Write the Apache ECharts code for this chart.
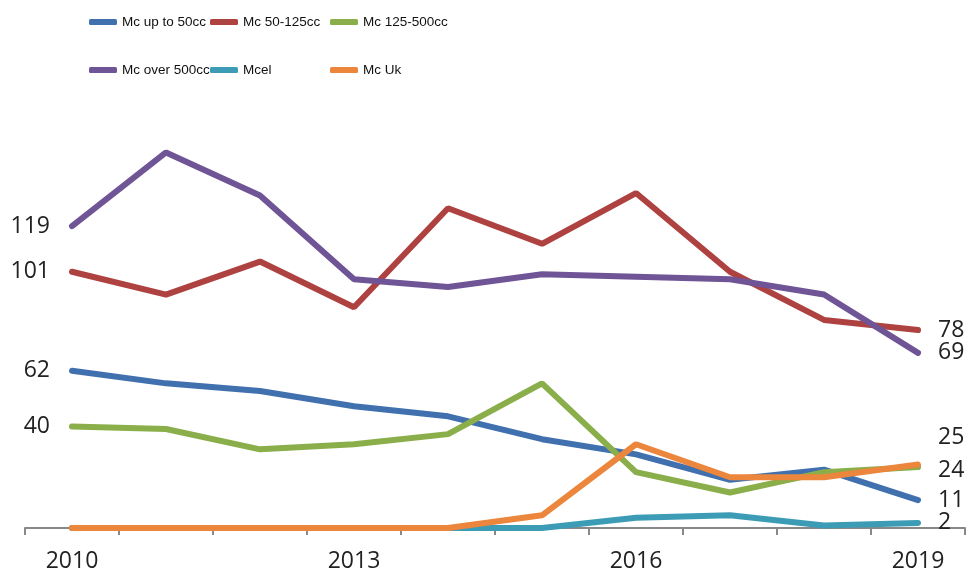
<!DOCTYPE html>
<html>
<head>
<meta charset="utf-8">
<script src="https://cdn.jsdelivr.net/npm/echarts@6/dist/echarts.min.js"></script>
<style>html,body{margin:0;background:#fff}#chart{width:970px;height:578px}</style>
</head>
<body>
<div id="chart"></div>
<script>
var years = ['2010', '2011', '2012', '2013', '2014', '2015', '2016', '2017', '2018', '2019'];
var mcUpTo50 = [62, 57, 54, 48, 44, 35, 29, 19, 23, 11];
var mc50to125 = [101, 92, 105, 87, 126, 112, 132, 101, 82, 78];
var mc125to500 = [40, 39, 31, 33, 37, 57, 22, 14, 22, 24];
var mcOver500 = [119, 148, 131, 98, 95, 100, 99, 98, 92, 69];
var mcel = [0, 0, 0, 0, 0, 0, 4, 5, 1, 2];
var mcUk = [0, 0, 0, 0, 0, 5, 33, 20, 20, 25];

var seriesNames = ['Mc up to 50cc', 'Mc 50-125cc', 'Mc 125-500cc', 'Mc over 500cc', 'Mcel', 'Mc Uk'];
var legendLeft = [89, 210, 330, 89, 210, 330];
var legendTop = [15, 15, 15, 63, 63, 63];

var numFont = '"Open Sans", sans-serif';
var legendFont = '"Liberation Sans", Arial, sans-serif';

function makeSeries(name, data, color, showStart, endOffset) {
  return {
    name: name,
    type: 'line',
    data: data,
    symbol: 'circle',
    symbolSize: 0,
    showSymbol: true,
    lineStyle: { width: 6, color: color, cap: 'round' },
    itemStyle: { color: color },
    label: {
      show: showStart,
      position: 'left',
      distance: 22,
      fontFamily: numFont,
      fontSize: 23,
      color: '#222',
      formatter: function (p) { return p.dataIndex === 0 ? String(p.value) : ''; }
    },
    endLabel: {
      show: true,
      distance: 20,
      offset: [0, endOffset],
      fontFamily: numFont,
      fontSize: 23,
      color: '#222',
      formatter: '{c}'
    }
  };
}

var legends = seriesNames.map(function (n, i) {
  return {
    left: legendLeft[i],
    top: legendTop[i],
    itemWidth: 28,
    itemHeight: 6,
    itemGap: 0,
    padding: 0,
    icon: 'roundRect',
    data: [n],
    textStyle: { fontFamily: legendFont, fontSize: 13.5, color: '#111' }
  };
});

var chart = echarts.init(document.getElementById('chart'));
chart.setOption({
  animation: false,
  legend: legends,
  grid: { left: 25, right: 5, top: 122, bottom: 50 },
  xAxis: {
    type: 'category',
    data: years,
    boundaryGap: true,
    axisLine: { lineStyle: { color: '#888', width: 2 } },
    axisTick: { show: true, length: 7, interval: 0, lineStyle: { color: '#888', width: 2 } },
    axisLabel: { interval: 2, margin: 22, fontFamily: numFont, fontSize: 23, color: '#222' }
  },
  yAxis: {
    type: 'value',
    min: 0,
    max: 160,
    show: false,
    splitLine: { show: false }
  },
  series: [
    makeSeries(seriesNames[0], mcUpTo50, '#4170AE', true, 0),
    makeSeries(seriesNames[1], mc50to125, '#AE4240', true, 0),
    makeSeries(seriesNames[2], mc125to500, '#8AAE4A', true, 3),
    makeSeries(seriesNames[3], mcOver500, '#6F5496', true, 0),
    makeSeries(seriesNames[4], mcel, '#3D9CB5', false, 0),
    makeSeries(seriesNames[5], mcUk, '#EB863C', false, -27)
  ]
});
</script>
</body>
</html>
